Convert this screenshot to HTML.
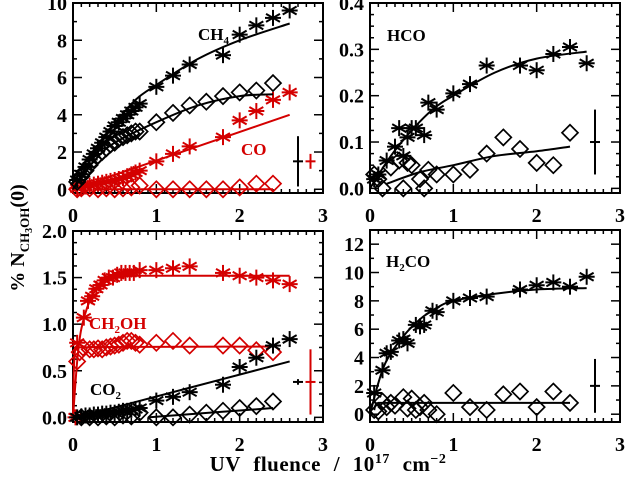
<!DOCTYPE html>
<html><head><meta charset="utf-8"><style>
body{margin:0;background:#fff;}
svg{display:block;font-family:"Liberation Serif",serif;font-weight:bold;}
</style></head><body>
<svg id="c" width="625" height="477" viewBox="0 0 625 477" style="position:absolute;left:0;top:0"></svg>
<script>
// ---- data ----
const ch4StarX=[0.05,0.1,0.15,0.2,0.25,0.3,0.35,0.4,0.45,0.5,0.55,0.6,0.65,0.7,0.75,0.8,1.0,1.2,1.4,1.8,2.0,2.2,2.4,2.6];
const ch4StarY=[0.5,0.8,1.2,1.6,1.9,2.2,2.5,2.8,3.1,3.4,3.6,3.8,4.0,4.2,4.4,4.6,5.5,6.1,6.7,7.2,8.3,8.8,9.2,9.6];
const ch4FitX=[0,0.25,0.5,0.75,1,1.5,2,2.6];
const ch4FitY=[0,1.9,3.5,4.8,5.6,7.0,8.0,8.9];
const ch4DiaX=[0.05,0.1,0.15,0.2,0.25,0.3,0.35,0.4,0.45,0.5,0.55,0.6,0.65,0.7,0.75,0.8,1.0,1.2,1.4,1.6,1.8,2.0,2.2,2.4];
const ch4DiaY=[0.4,0.7,1.0,1.3,1.6,1.8,2.0,2.2,2.4,2.5,2.7,2.8,2.9,3.0,3.1,3.1,3.6,4.1,4.5,4.7,5.0,5.2,5.3,5.7];
const ch4DFitX=[0,0.25,0.5,1,1.5,2,2.4];
const ch4DFitY=[0,1.5,2.5,3.6,4.5,5.0,5.1];
const coStarX=[0.05,0.1,0.15,0.2,0.25,0.3,0.35,0.4,0.45,0.5,0.55,0.6,0.65,0.7,0.75,0.8,1.0,1.2,1.4,1.8,2.0,2.2,2.4,2.6];
const coStarY=[0.05,0.1,0.15,0.2,0.25,0.3,0.35,0.4,0.45,0.5,0.55,0.6,0.7,0.8,0.9,1.0,1.5,1.9,2.3,2.8,3.7,4.2,4.8,5.2];
const coFitX=[0,2.6];
const coFitY=[0,4.0];
const coDiaX=[0.05,0.1,0.2,0.3,0.4,0.5,0.6,0.7,0.8,1.0,1.2,1.4,1.6,1.8,2.0,2.2,2.4];
const coDiaY=[0.0,0.05,0.05,0.0,0.05,0.0,0.05,0.1,0.2,0.0,0.0,0.0,0.0,0.0,0.1,0.3,0.3];
const coDFitX=[0.3,2.4];
const coDFitY=[0.0,0.0];

const hcoStarX=[0.05,0.1,0.2,0.3,0.35,0.4,0.45,0.5,0.55,0.65,0.7,0.8,1.0,1.2,1.4,1.8,2.0,2.2,2.4,2.6];
const hcoStarY=[0.02,0.03,0.06,0.09,0.13,0.07,0.11,0.13,0.13,0.115,0.185,0.17,0.205,0.225,0.265,0.265,0.255,0.29,0.305,0.27];
const hcoFitX=[0,0.25,0.5,0.75,1,1.5,2,2.6];
const hcoFitY=[0,0.07,0.125,0.17,0.2,0.25,0.28,0.295];
const hcoDiaX=[0.05,0.1,0.15,0.25,0.35,0.4,0.45,0.5,0.6,0.65,0.7,0.8,1.0,1.2,1.4,1.6,1.8,2.0,2.2,2.4];
const hcoDiaY=[0.03,0.02,0.0,0.045,0.06,0.0,0.055,0.05,0.02,0.0,0.04,0.03,0.03,0.04,0.075,0.11,0.085,0.055,0.05,0.12];
const hcoDFitX=[0.2,0.6,1,1.5,2,2.4];
const hcoDFitY=[0.01,0.035,0.05,0.07,0.08,0.09];

const ch2ohStarX=[0.03,0.05,0.13,0.18,0.23,0.28,0.33,0.38,0.43,0.48,0.53,0.58,0.63,0.68,0.73,0.8,1.0,1.2,1.4,1.8,2.0,2.2,2.4,2.6];
const ch2ohStarY=[0.0,0.8,1.07,1.25,1.3,1.38,1.42,1.47,1.5,1.5,1.53,1.55,1.55,1.55,1.55,1.58,1.58,1.6,1.62,1.55,1.52,1.5,1.47,1.43];
const ch2ohFitX=[0,0.05,0.1,0.2,0.3,0.4,0.6,0.8,2.6];
const ch2ohFitY=[0,0.6,0.95,1.25,1.4,1.47,1.51,1.52,1.52];
const ch2ohDiaX=[0.05,0.08,0.12,0.2,0.25,0.3,0.35,0.4,0.45,0.5,0.55,0.6,0.65,0.7,0.75,0.8,1.0,1.2,1.4,1.8,2.0,2.2,2.4];
const ch2ohDiaY=[0.6,0.7,0.75,0.73,0.73,0.74,0.73,0.75,0.76,0.77,0.78,0.8,0.82,0.82,0.8,0.78,0.8,0.82,0.77,0.77,0.77,0.72,0.7];
const ch2ohDFitX=[0,0.03,2.4];
const ch2ohDFitY=[0,0.75,0.76];
const co2StarX=[0.05,0.1,0.15,0.2,0.25,0.3,0.35,0.4,0.45,0.5,0.55,0.6,0.65,0.7,0.75,0.8,1.0,1.2,1.4,1.8,2.0,2.2,2.4,2.6];
const co2StarY=[0.0,0.01,0.02,0.02,0.03,0.03,0.04,0.04,0.05,0.05,0.06,0.07,0.07,0.08,0.09,0.1,0.18,0.22,0.27,0.35,0.54,0.64,0.77,0.84];
const co2FitX=[0.05,2.6];
const co2FitY=[0.0,0.6];
const co2DiaX=[0.1,0.2,0.3,0.4,0.5,0.6,0.7,0.8,1.0,1.2,1.4,1.6,1.8,2.0,2.2,2.4];
const co2DiaY=[0.0,0.0,0.0,0.01,0.0,0.02,0.01,0.05,0.0,0.0,0.03,0.05,0.07,0.1,0.12,0.17];
const co2DFitX=[0.9,2.4];
const co2DFitY=[0.0,0.1];

const h2coStarX=[0.05,0.15,0.2,0.25,0.35,0.4,0.45,0.55,0.6,0.65,0.75,0.8,1.0,1.2,1.4,1.8,2.0,2.2,2.4,2.6];
const h2coStarY=[1.5,3.1,4.3,4.4,5.2,5.3,5.0,6.3,6.2,6.3,7.3,7.2,8.0,8.2,8.3,8.8,9.1,9.3,9.0,9.7];
const h2coFitX=[0,0.1,0.2,0.4,0.6,0.8,1,1.5,2,2.6];
const h2coFitY=[0,2.2,3.8,5.5,6.7,7.5,8.0,8.5,8.8,8.9];
const h2coDiaX=[0.05,0.1,0.15,0.2,0.25,0.3,0.4,0.45,0.5,0.55,0.6,0.65,0.7,0.8,1.0,1.2,1.4,1.6,1.8,2.0,2.2,2.4];
const h2coDiaY=[0.3,0.2,0.9,0.5,0.8,0.6,1.2,0.4,1.1,0.3,0.5,0.8,0.3,0.0,1.5,0.5,0.3,1.4,1.6,0.5,1.6,0.8];
const h2coDFitX=[0.05,0.1,2.4];
const h2coDFitY=[0.3,0.8,0.8];

const xTicks=[0,1,2,3];
const tlTicks=[0,2,4,6,8,10];
const trTicks=[0,0.1,0.2,0.3,0.4];
const blTicks=[0,0.5,1.0,1.5,2.0];
const brTicks=[0,2,4,6,8,10,12];

// ---- drawing ----
const NS="http://www.w3.org/2000/svg";
const svg=document.getElementById('c');
function el(tag,attrs,parent){const e=document.createElementNS(NS,tag);for(const k in attrs)e.setAttribute(k,attrs[k]);(parent||svg).appendChild(e);return e;}
const RED="#d40000";

function panel(name,L,R,T,B,ymin,ymax,yTicks,yMinor,yfmt){
  const g=el('g',{});
  
  
  const sx=v=>L+(v/3)*(R-L);
  const sy=v=>B-(v-ymin)/(ymax-ymin)*(B-T);
  const p={g,sx,sy,L,R,T,B};
  for(let i=0;i<=30;i++){const v=i/10,x=sx(v);const len=(i%10===0)?9:4;
    el('line',{x1:x,y1:B,x2:x,y2:B-len,stroke:'#000','stroke-width':1.5},g);
    el('line',{x1:x,y1:T,x2:x,y2:T+len,stroke:'#000','stroke-width':1.5},g);}
  for(let v=Math.ceil(ymin/yMinor)*yMinor;v<=ymax+1e-9;v+=yMinor){const y=sy(v);
    const major=yTicks.some(t=>Math.abs(t-v)<1e-6);const len=major?9:4;
    el('line',{x1:L,y1:y,x2:L+len,y2:y,stroke:'#000','stroke-width':1.5},g);
    el('line',{x1:R,y1:y,x2:R-len,y2:y,stroke:'#000','stroke-width':1.5},g);}
  el('rect',{x:L,y:T,width:R-L,height:B-T,fill:'none',stroke:'#000','stroke-width':2},g);
  xTicks.forEach(v=>{const t=el('text',{x:sx(v),y:B+29,'text-anchor':'middle','font-size':20},g);t.textContent=v;
    
    });
  yTicks.forEach(v=>{const t=el('text',{x:L-6,y:sy(v)+7,'text-anchor':'end','font-size':20},g);t.textContent=yfmt(v);
    
    });
  return p;
}
function stars(p,xs,ys,col,name){const g=el('g',{stroke:col,'stroke-width':2,fill:'none'},p.g);
  
  
  xs.forEach((x,i)=>{const cx=p.sx(x),cy=p.sy(ys[i]),r=8;
    el('line',{x1:cx,y1:cy-r,x2:cx,y2:cy+r},g);
    el('line',{x1:cx-r*0.87,y1:cy-r*0.5,x2:cx+r*0.87,y2:cy+r*0.5},g);
    el('line',{x1:cx-r*0.87,y1:cy+r*0.5,x2:cx+r*0.87,y2:cy-r*0.5},g);
    el('line',{x1:cx-r,y1:cy,x2:cx+r,y2:cy},g);});}
function dias(p,xs,ys,col,name){const g=el('g',{stroke:col,'stroke-width':1.7,fill:'none'},p.g);
  
  
  xs.forEach((x,i)=>{const cx=p.sx(x),cy=p.sy(ys[i]),r=8;
    el('path',{d:`M${cx} ${cy-r}L${cx+r} ${cy}L${cx} ${cy+r}L${cx-r} ${cy}Z`},g);});}
function clamp(v,a,b){const lo=Math.min(a,b),hi=Math.max(a,b);return Math.max(lo,Math.min(hi,v));}
function fit(p,xs,ys,col,name){const pts=xs.map((x,i)=>[p.sx(x),p.sy(ys[i])]);
  let d='M'+pts[0][0]+' '+pts[0][1];
  for(let i=1;i<pts.length;i++){const p0=pts[Math.max(i-2,0)],p1=pts[i-1],p2=pts[i],p3=pts[Math.min(i+1,pts.length-1)];
    const c1=[clamp(p1[0]+(p2[0]-p0[0])/6,p1[0],p2[0]),clamp(p1[1]+(p2[1]-p0[1])/6,p1[1],p2[1])];
    const c2=[clamp(p2[0]-(p3[0]-p1[0])/6,p1[0],p2[0]),clamp(p2[1]-(p3[1]-p1[1])/6,p1[1],p2[1])];
    d+=`C${c1[0]} ${c1[1]} ${c2[0]} ${c2[1]} ${p2[0]} ${p2[1]}`;}
  const e=el('path',{d,stroke:col,'stroke-width':2,fill:'none'},p.g);
  
  }
function ebar(p,x,y,err,col){const g=el('g',{stroke:col,'stroke-width':2},p.g);
  
  
  const cx=p.sx(x);el('line',{x1:cx,y1:p.sy(y-err),x2:cx,y2:p.sy(y+err)},g);
  el('line',{x1:cx-5,y1:p.sy(y),x2:cx+5,y2:p.sy(y)},g);}
function label(p,x,y,html,col,name){const t=el('text',{x,y,'font-size':17,fill:col},p.g);t.innerHTML=html;
  
  }

const f0=v=>String(v), f1=v=>v.toFixed(1);
const tl=panel('panel-ch4-co',73,323,3,193,-0.2,10,tlTicks,1,f0);
fit(tl,coFitX,coFitY,RED,'co-fit');fit(tl,coDFitX,coDFitY,RED,'co-diamond-fit');
stars(tl,coStarX,coStarY,RED,'co-stars');dias(tl,coDiaX,coDiaY,RED,'co-diamonds');
fit(tl,ch4FitX,ch4FitY,'#000','ch4-fit');fit(tl,ch4DFitX,ch4DFitY,'#000','ch4-diamond-fit');
stars(tl,ch4StarX,ch4StarY,'#000','ch4-stars');dias(tl,ch4DiaX,ch4DiaY,'#000','ch4-diamonds');
ebar(tl,2.7,1.5,1.35,'#000');ebar(tl,2.85,1.5,0.4,RED);
label(tl,198,40,'CH<tspan dy="4" font-size="11">4</tspan>','#000','ch4-label');
label(tl,241,155,'CO',RED,'co-label');
const tr=panel('panel-hco',370,620,3,193,-0.01,0.4,trTicks,0.025,f1);
fit(tr,hcoFitX,hcoFitY,'#000','hco-fit');fit(tr,hcoDFitX,hcoDFitY,'#000','hco-diamond-fit');
stars(tr,hcoStarX,hcoStarY,'#000','hco-stars');dias(tr,hcoDiaX,hcoDiaY,'#000','hco-diamonds');
ebar(tr,2.7,0.1,0.07,'#000');
label(tr,387,41,'HCO','#000','hco-label');
const bl=panel('panel-ch2oh-co2',73,323,231,422,-0.05,2.0,blTicks,0.125,f1);
fit(bl,ch2ohFitX,ch2ohFitY,RED,'ch2oh-fit');fit(bl,ch2ohDFitX,ch2ohDFitY,RED,'ch2oh-diamond-fit');
stars(bl,ch2ohStarX,ch2ohStarY,RED,'ch2oh-stars');dias(bl,ch2ohDiaX,ch2ohDiaY,RED,'ch2oh-diamonds');
fit(bl,co2FitX,co2FitY,'#000','co2-fit');fit(bl,co2DFitX,co2DFitY,'#000','co2-diamond-fit');
stars(bl,co2StarX,co2StarY,'#000','co2-stars');dias(bl,co2DiaX,co2DiaY,'#000','co2-diamonds');
ebar(bl,2.7,0.38,0.03,'#000');ebar(bl,2.85,0.38,0.35,RED);
label(bl,89,329,'CH<tspan dy="4" font-size="11">2</tspan><tspan dy="-4">OH</tspan>',RED,'ch2oh-label');
label(bl,90,395,'CO<tspan dy="4" font-size="11">2</tspan>','#000','co2-label');
const br=panel('panel-h2co',370,620,230,422,-0.55,13,brTicks,1,f0);
fit(br,h2coFitX,h2coFitY,'#000','h2co-fit');fit(br,h2coDFitX,h2coDFitY,'#000','h2co-diamond-fit');
stars(br,h2coStarX,h2coStarY,'#000','h2co-stars');dias(br,h2coDiaX,h2coDiaY,'#000','h2co-diamonds');
ebar(br,2.7,2,1.9,'#000');
label(br,386,267,'H<tspan dy="4" font-size="11">2</tspan><tspan dy="-4">CO</tspan>','#000','h2co-label');
</script>
<svg width="625" height="477" style="position:absolute;left:0;top:0;font-family:'Liberation Serif',serif;font-weight:bold">
<text x="328" y="471" text-anchor="middle" font-size="21" word-spacing="7" letter-spacing="0.5">UV fluence / 10<tspan dy="-8" font-size="14">17</tspan><tspan dy="8"> cm</tspan><tspan dy="-8" font-size="14">−2</tspan></text>
<text transform="translate(24,238) rotate(-90)" text-anchor="middle" font-size="20">% N<tspan dy="5" font-size="13">CH</tspan><tspan dy="3" font-size="10">3</tspan><tspan dy="-3" font-size="13">OH</tspan><tspan dy="-5">(0)</tspan></text>
</svg>
</body></html>
